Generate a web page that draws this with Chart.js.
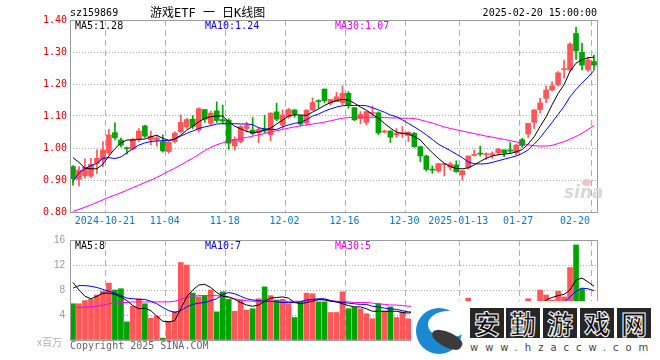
<!DOCTYPE html>
<html lang="zh-CN">
<head>
<meta charset="UTF-8">
<title>游戏ETF 日K线图</title>
<script src="https://cdn.jsdelivr.net/npm/chart.js@4.4.1/dist/chart.umd.min.js"></script>
<style>
  body { margin: 0; background: #fff; }
  #wrap { position: relative; width: 660px; height: 360px; overflow: hidden; background: #fff; }
  canvas { position: absolute; left: 0; }
  .t { position: absolute; white-space: pre; font: 10px "DejaVu Sans Mono", monospace; line-height: 12px; color: #000; }
  #wm { position: absolute; left: 411px; top: 301px; width: 249px; height: 59px; background: #fff; }
  #wm .a { position: absolute; left: 5px; top: 7px; width: 46px; height: 46px; border-radius: 50%; background: #1a89d2; }
  #wm .b { position: absolute; left: 17px; top: 10px; width: 40px; height: 27px; border-radius: 50%; background: #fff; }
  #wm .c { position: absolute; left: 20px; top: 31px; width: 32px; height: 15px; border-radius: 60% 40% 50% 50%; background: #3b3b3b; transform: rotate(28deg); }
  #wm .k { position: absolute; top: 7px; width: 34px; height: 30px; background: #262626; color: #0c0c0c;
           font: bold 26px "Noto Sans CJK SC"; line-height: 30px; text-align: center; -webkit-text-stroke: 1px #fff; }
  #wm .u { position: absolute; left: 59px; top: 41px; font: 10px "DejaVu Sans"; letter-spacing: 7px; color: #444; white-space: pre; }
</style>
</head>
<body>
<div id="wrap">
  <canvas id="kline" width="660" height="228" style="top:0;width:660px;height:228px"></canvas>
  <canvas id="vol" width="660" height="132" style="top:228px;width:660px;height:132px"></canvas>

  <div class="t" style="left:70px;top:7px">sz159869</div>
  <div class="t" style="left:150px;top:6px;font-size:12px;line-height:14px;font-family:'DejaVu Sans Mono','Noto Sans CJK SC'">游戏ETF 一 日K线图</div>
  <div class="t" style="right:63px;top:7px">2025-02-20 15:00:00</div>

  <div class="t" id="pl0" style="left:75px;top:20px"></div>
  <div class="t" id="pl1" style="left:205px;top:20px;color:#0000ee"></div>
  <div class="t" id="pl2" style="left:335px;top:20px;color:#ee00ee"></div>

  <div class="t" id="vl0" style="left:75px;top:240px"></div>
  <div class="t" id="vl1" style="left:205px;top:240px;color:#0000ee"></div>
  <div class="t" id="vl2" style="left:335px;top:240px;color:#ee00ee"></div>

  <div class="t" style="left:37px;top:336px;font-family:'Noto Sans CJK SC';color:#b0b0b0">x百万</div>
  <div class="t" style="left:70px;top:340px;color:#666">Copyright 2025 SINA.COM</div>

  <div class="t" style="left:564px;top:182px;font:italic bold 17px 'DejaVu Sans';line-height:20px;color:#d9d9d9">sina</div>
  <div style="position:absolute;left:582px;top:179px;width:9px;height:7px;border-radius:50%;background:#f2c4c4"></div>

  <div id="wm">
    <div class="a"></div><div class="b"></div><div class="c"></div>
    <div class="k" style="left:59px">安</div>
    <div class="k" style="left:95px">勤</div>
    <div class="k" style="left:132px">游</div>
    <div class="k" style="left:169px">戏</div>
    <div class="k" style="left:206px">网</div>
    <div class="u">www.hzaccw.com</div>
  </div>
</div>

<script>
// 交易日
const dates = [
  '2024-10-11','2024-10-14','2024-10-15','2024-10-16','2024-10-17','2024-10-18','2024-10-21','2024-10-22','2024-10-23','2024-10-24',
  '2024-10-25','2024-10-28','2024-10-29','2024-10-30','2024-10-31','2024-11-01','2024-11-04','2024-11-05','2024-11-06','2024-11-07',
  '2024-11-08','2024-11-11','2024-11-12','2024-11-13','2024-11-14','2024-11-15','2024-11-18','2024-11-19','2024-11-20','2024-11-21',
  '2024-11-22','2024-11-25','2024-11-26','2024-11-27','2024-11-28','2024-11-29','2024-12-02','2024-12-03','2024-12-04','2024-12-05',
  '2024-12-06','2024-12-09','2024-12-10','2024-12-11','2024-12-12','2024-12-13','2024-12-16','2024-12-17','2024-12-18','2024-12-19',
  '2024-12-20','2024-12-23','2024-12-24','2024-12-25','2024-12-26','2024-12-27','2024-12-30','2024-12-31','2025-01-02','2025-01-03',
  '2025-01-06','2025-01-07','2025-01-08','2025-01-09','2025-01-10','2025-01-13','2025-01-14','2025-01-15','2025-01-16','2025-01-17',
  '2025-01-20','2025-01-21','2025-01-22','2025-01-23','2025-01-24','2025-01-27','2025-02-05','2025-02-06','2025-02-07','2025-02-10',
  '2025-02-11','2025-02-12','2025-02-13','2025-02-14','2025-02-17','2025-02-18','2025-02-19','2025-02-20'
];

const opens = [
  0.942, 0.902, 0.913, 0.912, 0.952, 0.962, 0.985, 1.048, 1.025, 1.000,
  0.996, 1.027, 1.069, 1.025, 1.025, 1.020, 0.989, 1.020, 1.051, 1.067,
  1.090, 1.056, 1.120, 1.077, 1.116, 1.089, 1.087, 1.006, 1.020, 1.061,
  1.056, 1.048, 1.058, 1.042, 1.113, 1.072, 1.098, 1.119, 1.100, 1.078,
  1.119, 1.147, 1.184, 1.140, 1.145, 1.142, 1.171, 1.126, 1.092, 1.080,
  1.108, 1.110, 1.050, 1.053, 1.041, 1.045, 1.039, 1.046, 1.004, 0.975,
  0.934, 0.928, 0.948, 0.940, 0.947, 0.916, 0.939, 0.977, 0.983, 0.979,
  0.979, 0.985, 0.994, 0.994, 0.985, 1.026, 1.044, 1.080, 1.120, 1.155,
  1.181, 1.197, 1.245, 1.244, 1.358, 1.299, 1.244, 1.270
];
const highs = [
  0.945, 0.942, 0.966, 0.968, 0.994, 1.020, 1.058, 1.079, 1.031, 1.003,
  1.030, 1.061, 1.071, 1.053, 1.037, 1.041, 1.020, 1.051, 1.103, 1.092,
  1.101, 1.126, 1.121, 1.115, 1.144, 1.134, 1.091, 1.035, 1.070, 1.081,
  1.095, 1.065, 1.102, 1.110, 1.140, 1.119, 1.124, 1.120, 1.103, 1.120,
  1.157, 1.151, 1.185, 1.152, 1.174, 1.194, 1.176, 1.126, 1.114, 1.114,
  1.130, 1.113, 1.056, 1.054, 1.061, 1.067, 1.051, 1.049, 1.006, 0.978,
  0.944, 0.952, 0.951, 0.956, 0.960, 0.930, 0.975, 0.994, 1.006, 0.985,
  0.988, 0.999, 0.994, 1.017, 1.012, 1.030, 1.077, 1.120, 1.155, 1.194,
  1.207, 1.239, 1.275, 1.329, 1.377, 1.327, 1.283, 1.290
];
const lows = [
  0.884, 0.881, 0.906, 0.908, 0.920, 0.942, 0.980, 1.025, 1.003, 0.981,
  0.994, 1.020, 1.033, 1.010, 1.006, 0.987, 0.984, 1.015, 1.047, 1.061,
  1.061, 1.050, 1.080, 1.071, 1.080, 1.075, 0.996, 0.993, 1.016, 1.050,
  1.040, 1.017, 1.048, 1.022, 1.085, 1.061, 1.093, 1.096, 1.070, 1.072,
  1.117, 1.125, 1.142, 1.134, 1.145, 1.134, 1.124, 1.085, 1.076, 1.072,
  1.099, 1.042, 1.048, 1.017, 1.033, 1.033, 1.020, 1.002, 0.957, 0.928,
  0.921, 0.924, 0.913, 0.931, 0.924, 0.900, 0.934, 0.975, 0.975, 0.964,
  0.968, 0.978, 0.973, 0.985, 0.978, 1.002, 1.033, 1.061, 1.110, 1.142,
  1.179, 1.194, 1.218, 1.239, 1.277, 1.244, 1.239, 1.244
];
const closes = [
  0.904, 0.931, 0.940, 0.949, 0.968, 0.994, 1.041, 1.032, 1.009, 0.998,
  1.027, 1.053, 1.037, 1.037, 1.032, 0.991, 1.018, 1.047, 1.080, 1.089,
  1.068, 1.123, 1.090, 1.109, 1.086, 1.084, 1.015, 1.027, 1.067, 1.070,
  1.045, 1.058, 1.053, 1.109, 1.090, 1.103, 1.120, 1.106, 1.075, 1.118,
  1.142, 1.145, 1.148, 1.152, 1.160, 1.171, 1.134, 1.088, 1.105, 1.114,
  1.111, 1.047, 1.053, 1.034, 1.046, 1.048, 1.049, 1.004, 0.975, 0.933,
  0.931, 0.951, 0.950, 0.950, 0.926, 0.929, 0.975, 0.978, 0.981, 0.981,
  0.982, 0.996, 0.985, 0.990, 1.009, 1.008, 1.077, 1.119, 1.141, 1.181,
  1.194, 1.235, 1.247, 1.325, 1.304, 1.259, 1.275, 1.259
];

// 均线 (价格)
const ma5 = [
  0.970, 0.955, 0.937, 0.935, 0.935, 0.950, 0.975, 0.998, 1.016, 1.025,
  1.025, 1.027, 1.028, 1.035, 1.040, 1.030, 1.024, 1.028, 1.040, 1.056,
  1.068, 1.082, 1.092, 1.098, 1.100, 1.100, 1.082, 1.068, 1.060, 1.052,
  1.048, 1.050, 1.056, 1.062, 1.075, 1.087, 1.100, 1.104, 1.103, 1.102,
  1.112, 1.122, 1.133, 1.142, 1.148, 1.152, 1.150, 1.140, 1.128, 1.118,
  1.105, 1.093, 1.077, 1.062, 1.050, 1.045, 1.044, 1.036, 1.025, 1.004,
  0.985, 0.968, 0.952, 0.942, 0.936, 0.935, 0.938, 0.947, 0.958, 0.968,
  0.975, 0.979, 0.981, 0.983, 0.988, 0.995, 1.012, 1.035, 1.067, 1.097,
  1.135, 1.170, 1.198, 1.240, 1.265, 1.276, 1.282, 1.284
];
const ma10 = [
  0.895, 0.922, 0.935, 0.945, 0.952, 0.968, 0.970, 0.967, 0.972, 0.985,
  0.998, 1.009, 1.016, 1.020, 1.022, 1.023, 1.023, 1.028, 1.037, 1.046,
  1.053, 1.061, 1.066, 1.070, 1.075, 1.076, 1.076, 1.076, 1.075, 1.075,
  1.073, 1.063, 1.060, 1.058, 1.058, 1.066, 1.072, 1.077, 1.080, 1.088,
  1.100, 1.106, 1.115, 1.122, 1.128, 1.132, 1.133, 1.133, 1.133, 1.132,
  1.126, 1.119, 1.112, 1.103, 1.098, 1.088, 1.077, 1.066, 1.054, 1.041,
  1.027, 1.012, 1.002, 0.992, 0.981, 0.970, 0.956, 0.951, 0.950, 0.951,
  0.955, 0.960, 0.965, 0.970, 0.975, 0.983, 0.994, 1.012, 1.032, 1.056,
  1.080, 1.105, 1.130, 1.160, 1.183, 1.203, 1.222, 1.242
];
const ma30 = [
  0.802, 0.808, 0.815, 0.822, 0.830, 0.838, 0.846, 0.853, 0.860, 0.868,
  0.876, 0.884, 0.892, 0.900, 0.908, 0.918, 0.928, 0.937, 0.947, 0.958,
  0.968, 0.980, 0.992, 1.002, 1.010, 1.016, 1.022, 1.026, 1.030, 1.033,
  1.037, 1.041, 1.045, 1.050, 1.054, 1.058, 1.062, 1.066, 1.069, 1.072,
  1.075, 1.078, 1.081, 1.085, 1.089, 1.093, 1.095, 1.096, 1.096, 1.096,
  1.096, 1.095, 1.095, 1.094, 1.094, 1.093, 1.093, 1.092, 1.088, 1.083,
  1.078, 1.072, 1.066, 1.061, 1.057, 1.053, 1.049, 1.045, 1.041, 1.037,
  1.034, 1.030, 1.027, 1.023, 1.019, 1.015, 1.010, 1.007, 1.006, 1.006,
  1.008, 1.014, 1.020, 1.028, 1.036, 1.046, 1.058, 1.070
];

// 成交量 (百万)
const volumes = [
  5.8, 5.8, 6.3, 6.5, 7.2, 7.8, 9.1, 8.0, 8.2, 2.9,
  5.4, 6.6, 5.8, 3.5, 3.8, 0.3, 3.0, 4.6, 12.4, 12.0,
  7.5, 6.9, 7.1, 8.0, 4.5, 7.7, 6.5, 4.6, 6.4, 4.8,
  5.0, 6.6, 8.5, 7.1, 6.4, 6.5, 5.8, 3.6, 6.1, 7.5,
  7.4, 6.1, 6.1, 4.4, 4.4, 7.7, 5.0, 5.2, 5.0, 4.2,
  3.4, 5.8, 4.6, 5.3, 3.6, 4.5, 3.4, 5.5, 5.8, 5.2,
  3.0, 3.8, 3.5, 2.6, 3.2, 4.0, 6.7, 3.5, 3.0, 2.2,
  2.0, 2.6, 2.5, 3.0, 3.6, 4.2, 6.6, 5.8, 8.0, 7.2,
  6.4, 7.8, 6.9, 11.6, 15.2, 8.2, 4.8, 3.6
];
const volMa5 = [
  9.2, 8.0, 7.0, 6.6, 7.0, 7.5, 7.5, 7.3, 6.9, 6.3,
  5.5, 5.0, 5.1, 4.7, 3.8, 3.0, 2.9, 3.1, 5.0, 6.9,
  8.0, 8.8, 8.9, 8.4, 7.6, 7.0, 6.9, 6.5, 6.0, 5.6,
  5.4, 5.6, 6.2, 6.7, 6.8, 6.9, 6.7, 6.0, 5.8, 6.0,
  6.2, 6.5, 6.4, 6.2, 6.1, 5.8, 5.5, 5.3, 5.3, 5.0,
  4.6, 4.6, 4.6, 4.6, 4.6, 4.4, 4.3, 4.5, 4.6, 4.7,
  4.6, 4.3, 4.2, 3.6, 3.2, 3.4, 4.0, 4.0, 4.1, 3.8,
  3.5, 2.7, 2.5, 2.5, 2.7, 3.2, 4.0, 4.6, 5.6, 6.4,
  6.8, 7.1, 7.3, 8.0, 9.6, 9.9, 9.3, 8.6
];
const volMa10 = [
  8.3, 8.7, 8.7, 8.6, 8.4, 8.1, 7.8, 7.5, 7.1, 6.7,
  6.6, 6.5, 6.5, 6.2, 5.8, 5.2, 4.7, 4.4, 4.7, 5.3,
  5.7, 5.9, 6.0, 6.3, 6.6, 7.3, 7.6, 7.4, 7.0, 6.6,
  6.4, 6.3, 6.2, 6.2, 6.1, 6.0, 6.0, 6.0, 6.1, 6.4,
  6.5, 6.6, 6.6, 6.3, 6.1, 6.0, 5.9, 5.8, 5.7, 5.7,
  5.4, 5.3, 5.1, 5.0, 4.9, 4.7, 4.5, 4.5, 4.5, 4.5,
  4.5, 4.4, 4.3, 4.1, 3.9, 3.9, 4.1, 3.9, 3.8, 3.6,
  3.4, 3.3, 3.3, 3.2, 3.2, 3.3, 3.6, 3.8, 4.3, 4.8,
  5.2, 5.6, 6.0, 6.9, 7.8, 8.3, 8.2, 7.9
];
const volMa30 = [
  5.2, 5.2, 5.3, 5.3, 5.4, 5.6, 5.8, 5.9, 6.0, 6.0,
  6.1, 6.1, 6.1, 6.1, 6.1, 6.1, 6.1, 6.2, 6.5, 6.8,
  7.0, 7.1, 7.1, 7.1, 7.1, 7.0, 6.8, 6.6, 6.4, 6.3,
  6.2, 6.2, 6.2, 6.2, 6.2, 6.2, 6.2, 6.2, 6.2, 6.3,
  6.4, 6.4, 6.5, 6.3, 6.2, 6.2, 6.1, 6.0, 6.0, 6.0,
  5.9, 5.8, 5.7, 5.6, 5.6, 5.5, 5.4, 5.4, 5.3, 5.3,
  5.2, 5.1, 5.0, 4.9, 4.8, 4.7, 4.7, 4.6, 4.5, 4.4,
  4.3, 4.2, 4.2, 4.1, 4.1, 4.1, 4.2, 4.3, 4.4, 4.5,
  4.6, 4.7, 4.8, 5.0, 5.2, 5.3, 5.3, 5.2
];

// 横轴刻度
const axisDates  = ['2024-10-21', '2024-11-04', '2024-11-18', '2024-12-02', '2024-12-16', '2024-12-30', '2025-01-13', '2025-01-27', '2025-02-20'];
const axisLabels = ['2024-10-21', '11-04', '11-18', '12-02', '12-16', '12-30', '2025-01-13', '01-27', '02-20     '];

const priceLegend = ['MA5:1.28', 'MA10:1.24', 'MA30:1.07'];
const volLegend = ['MA5:8', 'MA10:7', 'MA30:5'];

// ---------------------------------------------------------------
const UP = '#ff5757', DOWN = '#00a400';
const barColors = closes.map((c, i) => c >= opens[i] ? UP : DOWN);
const shownIdx = axisDates.map(d => dates.indexOf(d));
const MONO = { family: '"DejaVu Sans Mono", monospace', size: 10 };

priceLegend.forEach((t, i) => document.getElementById('pl' + i).textContent = t);
volLegend.forEach((t, i) => document.getElementById('vl' + i).textContent = t);

// 外框
const frame = {
  id: 'frame',
  afterDraw(chart) {
    const { ctx, chartArea: a } = chart;
    ctx.save();
    ctx.strokeStyle = '#9c9c9c';
    ctx.lineWidth = 1;
    ctx.strokeRect(a.left + 0.5, a.top + 0.5, a.right - a.left, a.bottom - a.top);
    ctx.restore();
  }
};

function xAxis(withLabels) {
  return {
    type: 'category',
    offset: true,
    grid: {
      offset: true,
      drawTicks: false,
      color: c => shownIdx.includes(c.index) ? '#b0b0b0' : 'transparent'
    },
    border: { display: false, dash: [6, 4] },
    ticks: {
      display: withLabels,
      autoSkip: false, maxRotation: 0, minRotation: 0,
      labelOffset: -4, padding: 3,
      color: '#0a78cc', font: MONO,
      callback: (v, i) => { const k = shownIdx.indexOf(i); return k < 0 ? '' : axisLabels[k]; }
    },
    afterFit: s => { s.height = withLabels ? 16 : 0; }
  };
}

function maLine(label, data, color) {
  return { type: 'line', label, data, borderColor: color, borderWidth: 1, pointRadius: 0, tension: 0, order: 0 };
}

new Chart(document.getElementById('kline'), {
  data: {
    labels: dates,
    datasets: [
      maLine('MA5', ma5, '#000000'),
      maLine('MA10', ma10, '#0000ff'),
      maLine('MA30', ma30, '#ff00ff'),
      { type: 'bar', label: 'body', data: opens.map((o, i) => [o, closes[i]]),
        backgroundColor: barColors, barThickness: 5, minBarLength: 1, grouped: false, order: 1 },
      { type: 'bar', label: 'wick', data: lows.map((l, i) => [l, highs[i]]),
        backgroundColor: barColors, barThickness: 1, grouped: false, order: 2 }
    ]
  },
  options: {
    responsive: false,
    animation: false,
    events: [],
    layout: { padding: { left: 0, right: 63, top: 20, bottom: 0 } },
    plugins: { legend: { display: false }, tooltip: { enabled: false } },
    scales: {
      x: xAxis(true),
      y: {
        min: 0.8, max: 1.4,
        afterFit: s => { s.width = 70; },
        grid: {
          drawTicks: false,
          color: c => (c.tick && c.tick.value > 0.81 && c.tick.value < 1.39) ? '#a8a8a8' : 'transparent'
        },
        border: { display: false, dash: [1, 2] },
        ticks: { stepSize: 0.1, padding: 3, color: '#e60000', font: MONO, callback: v => v.toFixed(2) }
      }
    }
  },
  plugins: [frame]
});

new Chart(document.getElementById('vol'), {
  data: {
    labels: dates,
    datasets: [
      maLine('MA5', volMa5, '#000000'),
      maLine('MA10', volMa10, '#0000ff'),
      maLine('MA30', volMa30, '#ff00ff'),
      { type: 'bar', label: 'vol', data: volumes, backgroundColor: barColors,
        barThickness: 5, grouped: false, order: 1 }
    ]
  },
  options: {
    responsive: false,
    animation: false,
    events: [],
    layout: { padding: { left: 0, right: 63, top: 12, bottom: 20 } },
    plugins: { legend: { display: false }, tooltip: { enabled: false } },
    scales: {
      x: xAxis(false),
      y: {
        min: 0, max: 16,
        afterFit: s => { s.width = 70; },
        grid: {
          drawTicks: false,
          color: c => (c.tick && c.tick.value > 0 && c.tick.value < 16) ? '#a8a8a8' : 'transparent'
        },
        border: { display: false, dash: [1, 2] },
        ticks: { stepSize: 4, padding: 5, color: '#999999',
                 font: { family: '"Liberation Sans", sans-serif', size: 10 },
                 callback: v => v === 0 ? '' : v }
      }
    }
  },
  plugins: [frame]
});
</script>
</body>
</html>
